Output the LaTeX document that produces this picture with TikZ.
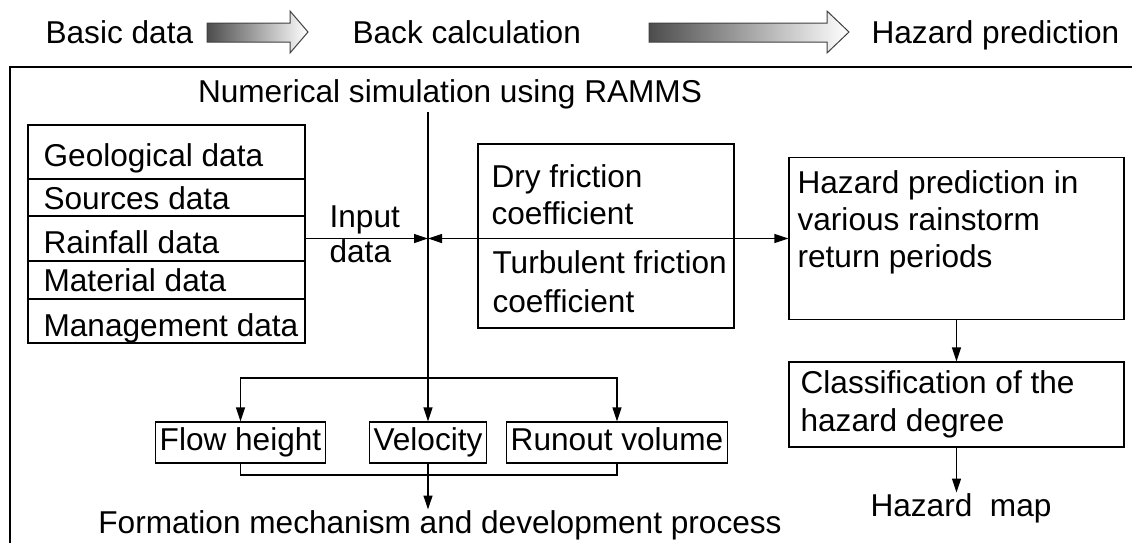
\documentclass[tikz,border=0pt]{standalone}
\usepackage{fontspec}
\setmainfont{Liberation Sans}
\usetikzlibrary{arrows.meta}

\begin{document}
\begin{tikzpicture}[x=0.5pt,y=-0.5pt,line width=0.6pt,
    every node/.style={font=\fontsize{15.8pt}{19pt}\selectfont,inner sep=0pt},
    box/.style={draw,line width=0.6pt},
    row/.style={box,outer sep=0pt,minimum width=138.5pt},
    small/.style={box,inner xsep=2pt,minimum height=20.5pt,text height=11.5pt,text depth=3.3pt},
    fat/.style={left color=black!70,right color=white,draw=black!75,line width=0.5pt},
    >={Triangle[length=7pt,width=4.5pt]}]
    \useasboundingbox (0,0) rectangle (1132,543);

    % header
    \node[anchor=base west] (basic) at (45,43) {Basic data};
    \node[anchor=base west] (back) at (352,43) {Back calculation};
    \node[anchor=base west] (pred) at (871,43) {Hazard prediction};
    \shade[fat] (207,23) -- (290,23) -- (290,11) -- (308,32)
        -- (290,53) -- (290,42) -- (207,42) -- cycle;
    \shade[fat] (649,23) -- (827,23) -- (827,11) -- (849,32)
        -- (827,53) -- (827,42) -- (649,42) -- cycle;

    % frame
    \draw[line width=0.7pt] (10,543) -- (10,67) -- (1132,67);
    \node[anchor=base] (ramms) at (450,102) {Numerical simulation using RAMMS};

    % basic data
    \node[row,anchor=north west,minimum height=27pt] (geo) at (28,125) {};
    \node[row,anchor=north,minimum height=18.5pt] (src) at (geo.south) {};
    \node[row,anchor=north,minimum height=22.5pt] (rain) at (src.south) {};
    \node[row,anchor=north,minimum height=19pt] (mat) at (rain.south) {};
    \node[row,anchor=north,minimum height=22pt] (man) at (mat.south) {};
    \foreach \yy/\txt in {166/Geological data,209/Sources data,253/Rainfall data,
                          291/Material data,336/Management data}
        \node[anchor=base west] (d\yy) at (43,\yy) {\txt};
    \node[anchor=base west] (inp1) at (329,227) {Input};
    \node[anchor=base west] (inp2) at (329,262) {data};

    % friction coefficients
    \node[box,minimum width=128pt,minimum height=92pt] (fric) at (606,236) {};
    \node[anchor=base west] (dry1) at (491,187) {Dry friction};
    \node[anchor=base west] (dry2) at (491,224) {coefficient};
    \node[anchor=base west] (tur1) at (492,273) {Turbulent friction};
    \node[anchor=base west] (tur2) at (492,312) {coefficient};

    % prediction
    \node[box,minimum width=167.5pt,minimum height=81pt] (haz) at (956.5,238.5) {};
    \node[anchor=base west] (haz1) at (797,193) {Hazard prediction in};
    \node[anchor=base west] (haz2) at (797,230) {various rainstorm};
    \node[anchor=base west] (haz3) at (797,267) {return periods};
    \node[box,minimum width=167.5pt,minimum height=42.5pt] (cls) at (956.5,404.5) {};
    \node[anchor=base west] (cls1) at (800,393) {Classification of the};
    \node[anchor=base west] (cls2) at (800,431) {hazard degree};
    \node[anchor=base] (hmap) at (961,516) {Hazard~ map};

    % results
    \node[small] (flow) at (240.5,442.5) {Flow height};
    \node[small] (velo) at (428,442.5) {Velocity};
    \node[small] (run) at (617,442.5) {Runout volume};
    \node[anchor=base] (form) at (440,533) {Formation mechanism and development process};

    \coordinate (vtop) at (428,112);
    \coordinate (cross) at (428,238.5);
    \coordinate (br) at (428,378);
    \coordinate (col) at (428,475);

    \draw[->] (vtop) -- (velo.north);
    \draw[->] (rain.east) -- (cross);
    \draw[<->] (cross) -- (haz.west);
    \draw[->] (br) -| (flow.north);
    \draw[->] (br) -| (run.north);
    \draw (flow.south) |- (col) -| (run.south);
    \draw[->] (velo.south) -- (velo.south |- form.north);
    \draw[->] (haz.south) -- (cls.north);
    \draw[->] (cls.south) -- (cls.south |- hmap.north);
\end{tikzpicture}
\end{document}
